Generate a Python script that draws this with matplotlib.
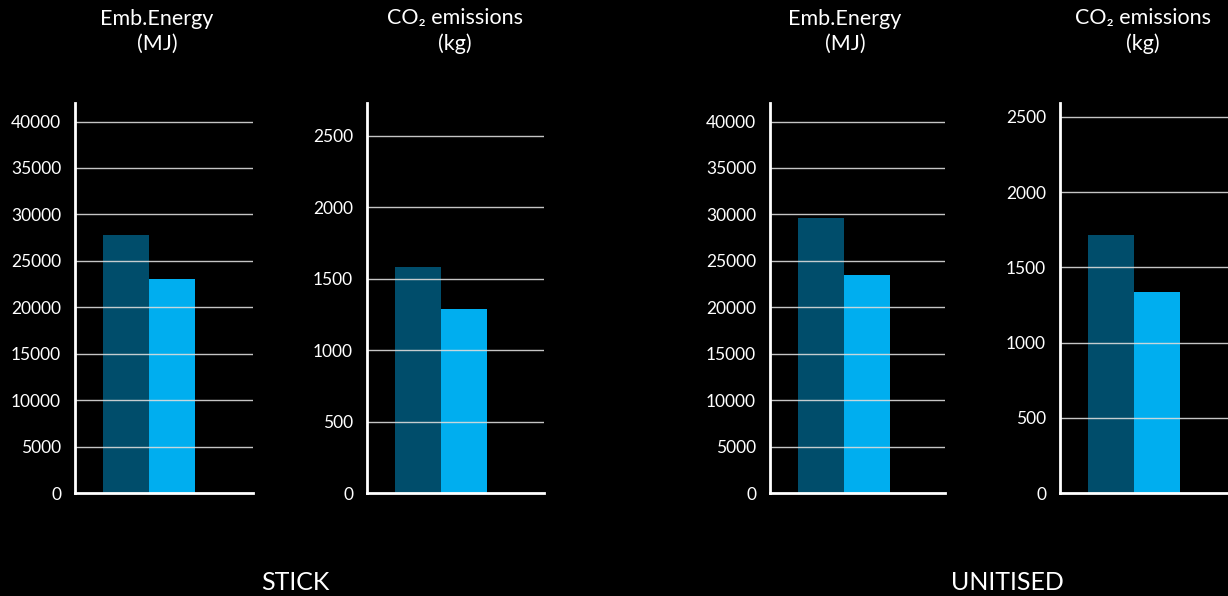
import matplotlib
matplotlib.use("Agg")
import matplotlib.pyplot as plt

plt.rcParams['font.family'] = ['Lato', 'DejaVu Sans']

# Data
series = ["Series A", "Series B"]
stick_energy = [27800, 23000]
stick_co2 = [1585, 1290]
unit_energy = [29650, 23500]
unit_co2 = [1715, 1336]
energy_ticks = [0, 5000, 10000, 15000, 20000, 25000, 30000, 35000, 40000]
co2_ticks = [0, 500, 1000, 1500, 2000, 2500]
titles = ["Emb.Energy\n(MJ)", "CO₂ emissions\n(kg)", "Emb.Energy\n(MJ)", "CO₂ emissions\n(kg)"]
group_labels = ["STICK", "UNITISED"]

colors = ["#004D6B", "#00AEEF"]

fig = plt.figure(figsize=(12.28, 5.96), dpi=100, facecolor="black")

H = 596.0
W = 1228.0
bottom = 1 - 493 / H
height = (493 - 103) / H

panels = [
    (75, 253, stick_energy, energy_ticks, 42000, titles[0], 157),
    (367, 544, stick_co2, co2_ticks, 2731, titles[1], 455),
    (770, 945, unit_energy, energy_ticks, 42000, titles[2], 845),
    (1060, 1238, unit_co2, co2_ticks, 2593, titles[3], 1143),
]

for (x0, x1, vals, ticks, ytop, title, tx) in panels:
    ax = fig.add_axes([x0 / W, bottom, (x1 - x0) / W, height])
    ax.set_facecolor("black")
    unit = 46.0
    ax.set_xlim((x0 - (x0 + 51.0)) / unit, (x1 - (x0 + 51.0)) / unit)
    ax.set_ylim(0, ytop)
    for i, (v, c) in enumerate(zip(vals, colors)):
        ax.bar(i, v, width=1.0, color=c, zorder=1, linewidth=0)
    ax.set_yticks(ticks)
    ax.set_yticklabels([str(t) for t in ticks])
    ax.set_xticks([])
    for t in ticks[1:]:
        ax.axhline(t, color="#dcdcdc", lw=1.0, zorder=2, alpha=0.9)
    for s in ["top", "right"]:
        ax.spines[s].set_visible(False)
    for s in ["left", "bottom"]:
        ax.spines[s].set_color("white")
        ax.spines[s].set_linewidth(2)
        ax.spines[s].set_zorder(3)
    ax.tick_params(axis="y", length=0, pad=10, labelcolor="white", labelsize=12.5)
    fig.text(tx / W, 1 - 31 / H, title, ha="center", va="center",
             color="white", fontsize=15.5, linespacing=1.3)

fig.text(295 / W, 1 - 582 / H, group_labels[0], ha="center", va="center",
         color="white", fontsize=18)
fig.text(1007 / W, 1 - 582 / H, group_labels[1], ha="center", va="center",
         color="white", fontsize=18)

fig.savefig("out.png", dpi=100, facecolor="black")
